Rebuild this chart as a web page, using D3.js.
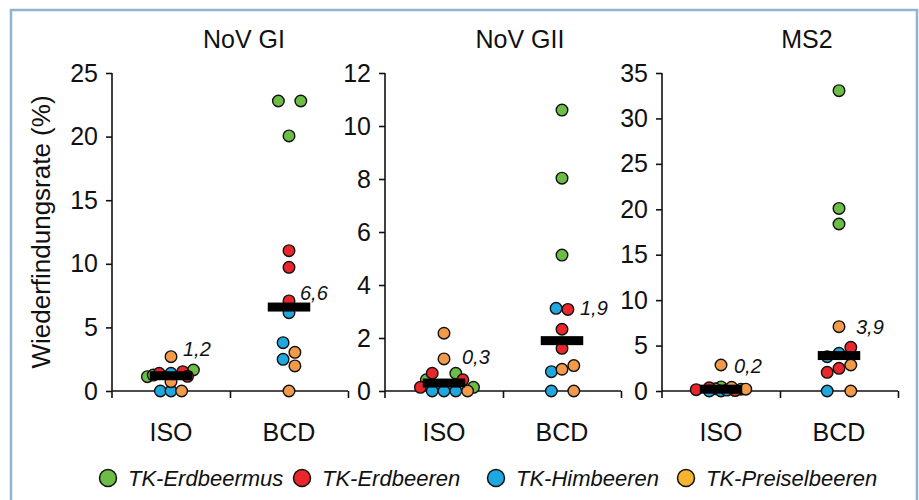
<!DOCTYPE html>
<html><head><meta charset="utf-8">
<script src="https://cdn.jsdelivr.net/npm/d3@7"></script>
<style>
html,body{margin:0;padding:0;background:#fff;}
svg{display:block;font-family:"Liberation Sans",Arial,sans-serif;}
</style></head>
<body>
<svg id="chart" width="919" height="500"></svg>
<script>
// ---------- DATA ----------
const panelTitles = ["NoV GI", "NoV GII", "MS2"];
const categories = ["ISO", "BCD"];
const seriesNames = ["TK-Erdbeermus", "TK-Erdbeeren", "TK-Himbeeren", "TK-Preiselbeeren"];
const yMaxima = [25, 12, 35];
const yTickSteps = [5, 2, 5];
const medianValues = [[1.2, 6.6], [0.3, 1.9], [0.2, 3.9]];

// recovery values (%) per panel -> category -> series (3 replicates each)
const noVGI_ISO = [[1.13, 1.25, 1.65], [1.39, 1.52, 1.15], [1.39, 0, 0], [2.7, 0.73, 0]];
const noVGI_BCD = [[22.8, 22.8, 20.05], [11.03, 9.72, 7.08], [6.16, 3.8, 2.49], [3.04, 1.97, 0]];
const noVGII_ISO = [[0.67, 0.42, 0.14], [0.67, 0.42, 0.14], [0, 0, 0], [2.18, 1.21, 0]];
const noVGII_BCD = [[10.6, 8.03, 5.13], [3.08, 2.33, 1.61], [3.12, 0.73, 0], [0.82, 0.96, 0]];
const ms2_ISO = [[0.45, 0.25, 0.2], [0.35, 0.15, 0.05], [0, 0, 0.1], [2.86, 0.4, 0.2]];
const ms2_BCD = [[33.05, 20.1, 18.38], [4.81, 2.5, 2.06], [4.15, 3.78, 0], [7.08, 2.86, 0]];

// horizontal jitter of each replicate, in category units (scatter x-offsets)
const noVGI_ISO_jit = [[-0.20, -0.15, 0.19], [-0.10, 0.10, 0.14], [0, -0.09, 0], [0, 0, 0.09]];
const noVGI_BCD_jit = [[-0.09, 0.10, 0], [0, 0, 0], [0, -0.05, -0.05], [0.05, 0.05, 0]];
const noVGII_ISO_jit = [[0.10, -0.15, 0.25], [-0.10, 0.16, -0.20], [-0.10, 0, 0.10], [0, 0, 0.20]];
const noVGII_BCD_jit = [[0, 0, 0], [0.05, 0, 0], [-0.05, -0.09, -0.09], [0, 0.10, 0.10]];
const ms2_ISO_jit = [[0, -0.05, 0.17], [-0.10, -0.21, 0.12], [-0.10, 0, 0.05], [0, 0.09, 0.21]];
const ms2_BCD_jit = [[0, 0, 0], [0.10, 0, -0.10], [0, -0.10, -0.10], [0, 0.10, 0.10]];

const panelValues = [[noVGI_ISO, noVGI_BCD], [noVGII_ISO, noVGII_BCD], [ms2_ISO, ms2_BCD]];
const panelJitter = [[noVGI_ISO_jit, noVGI_BCD_jit], [noVGII_ISO_jit, noVGII_BCD_jit], [ms2_ISO_jit, ms2_BCD_jit]];

// ---------- STYLE / LAYOUT ----------
const dotColors = ["#6cbd45", "#e8262b", "#1fa8e0", "#f29a4a"];
const legendColors = ["#6cbd45", "#e8262b", "#1fa8e0", "#f8b331"];
const plotLefts = [112, 385, 662];
const plotWidth = 236;
const yBottom = 391, yTop = 73;
const titleOffsets = [14, 17, 27];
const labelOffsets = [[[12, -20], [11, -7]], [[18, -19], [18, -26]], [[13, -16], [17, -22]]];
const legendX = [108, 302, 496, 686];
const mainFont = 25;

const svg = d3.select("#chart");
const fmt = d3.formatLocale({decimal: ",", thousands: ".", grouping: [3], currency: ["", "€"]}).format(".1f");

// frame
svg.append("path")
  .attr("d", "M11,510 V10 H917 V510")
  .attr("fill", "none").attr("stroke", "#8fb4d2").attr("stroke-width", 2.5);

panelTitles.forEach((title, p) => {
  const left = plotLefts[p];
  const x = d3.scaleLinear().domain([-0.5, 1.5]).range([left, left + plotWidth]);
  const y = d3.scaleLinear().domain([0, yMaxima[p]]).range([yBottom, yTop]);
  const g = svg.append("g");

  // title
  g.append("text").attr("x", x(0.5) + titleOffsets[p]).attr("y", 48)
    .attr("text-anchor", "middle").attr("font-size", mainFont).attr("fill", "#111").text(title);

  // y axis
  const ticks = d3.range(0, yMaxima[p] + 1e-9, yTickSteps[p]);
  const yAxis = d3.axisLeft(y).tickValues(ticks).tickSize(6).tickPadding(8).tickFormat(d3.format("d"));
  const ya = g.append("g").attr("transform", `translate(${left},0)`).call(yAxis);
  ya.select(".domain").attr("d", `M0,${yTop}V${yBottom + 7}`).attr("stroke", "#111").attr("stroke-width", 1.6);
  ya.selectAll(".tick line").attr("stroke", "#111").attr("stroke-width", 1.6);
  ya.selectAll(".tick text").attr("font-size", mainFont).attr("fill", "#111").attr("font-family", "Liberation Sans, Arial, sans-serif");

  // x axis
  const xAxis = d3.axisBottom(x).tickValues([0.5, 1.5]).tickSize(7).tickFormat("");
  const xa = g.append("g").attr("transform", `translate(0,${yBottom})`).call(xAxis);
  xa.select(".domain").attr("d", `M${left},0H${left + plotWidth}`).attr("stroke", "#111").attr("stroke-width", 1.6);
  xa.selectAll(".tick line").attr("stroke", "#111").attr("stroke-width", 1.6);

  // category labels
  categories.forEach((c, ci) => {
    g.append("text").attr("x", x(ci)).attr("y", 441).attr("text-anchor", "middle")
      .attr("font-size", mainFont).attr("fill", "#111").text(c);
  });

  // dots
  categories.forEach((c, ci) => {
    seriesNames.forEach((s, si) => {
      const vals = panelValues[p][ci][si];
      const jit = panelJitter[p][ci][si];
      g.selectAll(null).data(vals.map((v, k) => ({v, j: jit[k]}))).join("circle")
        .attr("cx", d => x(ci + d.j)).attr("cy", d => y(d.v)).attr("r", 5.8)
        .attr("fill", dotColors[si]).attr("stroke", "#111").attr("stroke-width", 1.4);
    });
  });

  // median bars and labels
  categories.forEach((c, ci) => {
    const m = medianValues[p][ci];
    g.append("rect").attr("x", x(ci - 0.18)).attr("width", x(ci + 0.18) - x(ci - 0.18))
      .attr("y", y(m) - 4.5).attr("height", 9).attr("fill", "#000");
    g.append("text").attr("x", x(ci) + labelOffsets[p][ci][0]).attr("y", y(m) + labelOffsets[p][ci][1])
      .attr("font-size", 20).attr("font-style", "italic").attr("fill", "#111").text(fmt(m));
  });
});

// y axis title
svg.append("text").attr("transform", `translate(50,${(yTop + yBottom) / 2}) rotate(-90)`)
  .attr("text-anchor", "middle").attr("font-size", 26).attr("fill", "#111").text("Wiederfindungsrate (%)");

// legend
seriesNames.forEach((s, i) => {
  svg.append("circle").attr("cx", legendX[i]).attr("cy", 478).attr("r", 8.5)
    .attr("fill", legendColors[i]).attr("stroke", "#111").attr("stroke-width", 1.5);
  svg.append("text").attr("x", legendX[i] + 20).attr("y", 486)
    .attr("font-size", 22).attr("font-style", "italic").attr("fill", "#111").text(s);
});
</script>
</body></html>
